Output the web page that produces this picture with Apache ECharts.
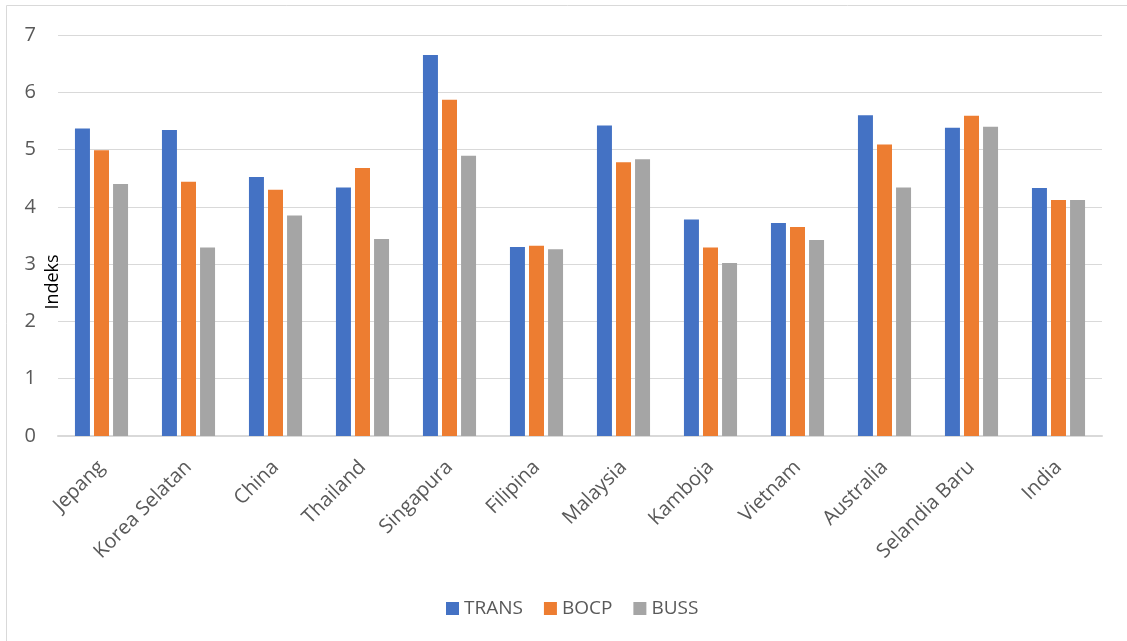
<!DOCTYPE html>
<html>
<head>
<meta charset="utf-8">
<script src="https://cdn.jsdelivr.net/npm/echarts@6/dist/echarts.min.js"></script>
<style>
  html, body { margin: 0; padding: 0; background: #fff; }
  #chart { width: 1127px; height: 641px; }
</style>
</head>
<body>
<div id="chart"></div>
<script>
const categories = ["Jepang", "Korea Selatan", "China", "Thailand", "Singapura", "Filipina",
  "Malaysia", "Kamboja", "Vietnam", "Australia", "Selandia Baru", "India"];
const trans = [5.37, 5.34, 4.52, 4.34, 6.65, 3.30, 5.42, 3.78, 3.72, 5.60, 5.38, 4.33];
const bocp = [4.99, 4.44, 4.30, 4.68, 5.87, 3.32, 4.78, 3.29, 3.65, 5.09, 5.59, 4.12];
const buss = [4.40, 3.29, 3.85, 3.44, 4.89, 3.26, 4.83, 3.02, 3.42, 4.34, 5.40, 4.12];

const font = "'Open Sans', sans-serif";
const textGrey = "#595959";

const chart = echarts.init(document.getElementById("chart"));

const makeSeries = (name, data, color) => ({
  name: name,
  type: "bar",
  data: data,
  barWidth: 15,
  barGap: "27%",
  itemStyle: { color: color },
});

chart.setOption({
  animation: false,
  textStyle: { fontFamily: font },
  grid: { left: 58, right: 25, top: 35, bottom: 205 },
  legend: {
    left: 441,
    top: 594,
    itemWidth: 13,
    itemHeight: 13,
    itemGap: 21,
    itemTextGap: 8,
    icon: "rect",
    textStyle: { fontSize: 19, color: textGrey, fontFamily: font },
  },
  xAxis: {
    type: "category",
    data: categories,
    axisLine: { lineStyle: { color: "#d9d9d9", width: 2 } },
    axisTick: { show: false },
    axisLabel: { rotate: 45, fontSize: 20, color: textGrey, margin: 28, interval: 0 },
  },
  yAxis: {
    type: "value",
    min: 0,
    max: 7,
    interval: 1,
    axisLine: { show: false },
    axisTick: { show: false },
    axisLabel: { fontSize: 20, color: textGrey, margin: 22 },
    splitLine: { lineStyle: { color: "#d9d9d9", width: 1 } },
  },
  graphic: [
    {
      type: "rect",
      shape: { x: 6.5, y: 5.5, width: 1300, height: 800 },
      style: { fill: null, stroke: "#d9d9d9", lineWidth: 1 },
      silent: true,
    },
    {
      type: "text",
      x: 53,
      y: 282,
      rotation: Math.PI / 2,
      style: {
        text: "Indeks",
        font: "18px " + font,
        fill: "#000",
        align: "center",
        verticalAlign: "middle",
      },
    },
  ],
  series: [
    makeSeries("TRANS", trans, "#4472C4"),
    makeSeries("BOCP", bocp, "#ED7D31"),
    makeSeries("BUSS", buss, "#A5A5A5"),
  ],
});
</script>
</body>
</html>
